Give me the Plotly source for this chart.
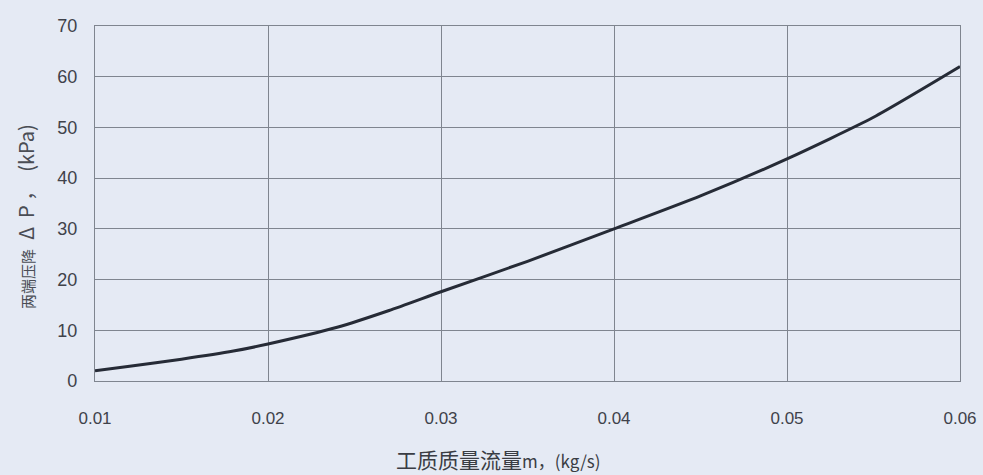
import plotly.graph_objects as go

flow_kg_s = [0.010, 0.012, 0.015, 0.018, 0.020, 0.024, 0.027, 0.030, 0.035, 0.040, 0.045, 0.050, 0.055, 0.060]
pressure_drop_kpa = [2.0, 2.9, 4.3, 5.9, 7.3, 10.6, 13.9, 17.6, 23.6, 30.0, 36.5, 43.8, 52.0, 62.0]

x_ticks = [0.01, 0.02, 0.03, 0.04, 0.05, 0.06]
x_tick_text = ["0.01", "0.02", "0.03", "0.04", "0.05", "0.06"]
y_ticks = [0, 10, 20, 30, 40, 50, 60, 70]

x_title = "<span style='font-size:21px'>工质质量流量</span>m，(kg/s)"
y_title = "<span style='font-size:15px'>两端压降</span>  Δ  P ，  (kPa)"

bg = "#e5eaf4"
grid = "#7f858f"
txt = "#3f424a"

fig = go.Figure()
fig.add_trace(go.Scatter(
    x=flow_kg_s, y=pressure_drop_kpa, mode="lines",
    line=dict(color="#262b36", width=3, shape="spline", smoothing=0.6),
    showlegend=False, hoverinfo="skip"))

fig.update_layout(
    width=983, height=475, autosize=False,
    paper_bgcolor=bg, plot_bgcolor=bg,
    margin=dict(l=95, r=23, t=26, b=94),
    font=dict(family="Liberation Sans, Arial, sans-serif", color=txt, size=14),
)
fig.update_xaxes(
    range=[0.01, 0.06], tickvals=x_ticks, ticktext=x_tick_text, automargin=False,
    showgrid=True, gridcolor=grid, gridwidth=1.4,
    showline=True, linecolor=grid, linewidth=1.4, mirror=True,
    zeroline=False, ticks="", ticklabelstandoff=21,
    tickfont=dict(size=17, color=txt),
)
fig.update_yaxes(
    range=[0, 70], tickvals=y_ticks, automargin=False,
    showgrid=True, gridcolor=grid, gridwidth=1.4,
    showline=True, linecolor=grid, linewidth=1.4, mirror=True,
    zeroline=False, ticks="", ticklabelstandoff=13,
    tickfont=dict(size=18, color=txt),
)
fig.add_annotation(
    text=x_title, xref="paper", yref="paper", x=(498 - 95) / 865, y=-(459 - 381) / 355,
    showarrow=False, xanchor="center", yanchor="middle",
    font=dict(family="Noto Sans CJK SC, Liberation Sans, sans-serif", size=17, color="#3a3d44"))
fig.add_annotation(
    text=y_title, xref="paper", yref="paper", x=-(95 - 26) / 865, y=(381 - 217) / 355,
    showarrow=False, xanchor="center", yanchor="middle", textangle=-90,
    font=dict(family="Noto Sans CJK SC, Liberation Sans, sans-serif", size=20, color="#4a4d55"))

fig.write_html("out.html", config={"displayModeBar": False},
               post_script="document.body.style.margin='0';document.body.style.background='#e5eaf4';")
